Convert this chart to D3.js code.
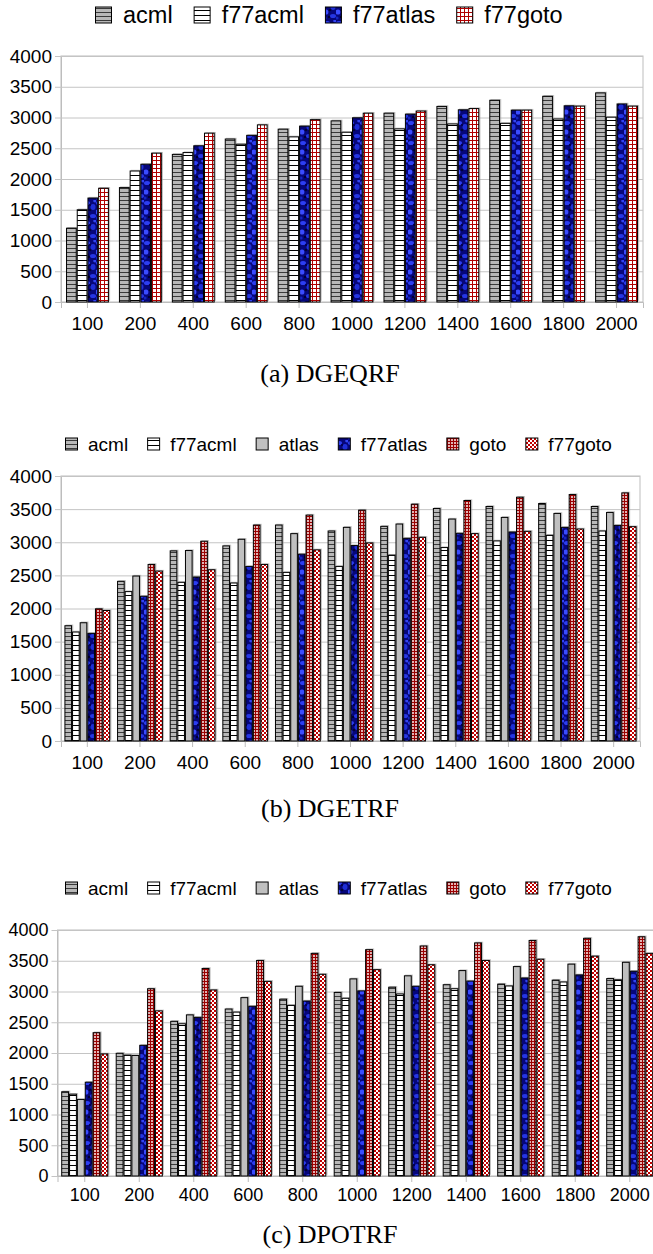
<!DOCTYPE html>
<html><head><meta charset="utf-8">
<script src="https://cdn.jsdelivr.net/npm/d3@7"></script>
<style>
html,body{margin:0;padding:0;background:#fff;}
svg{display:block;font-family:"Liberation Sans",Arial,sans-serif;}
</style></head>
<body>
<svg id="chart" width="653" height="1254"></svg>
<script>
// ---------- data ----------
const categories = ["100","200","400","600","800","1000","1200","1400","1600","1800","2000"];
const yTicks = [0,500,1000,1500,2000,2500,3000,3500,4000];

// (a) DGEQRF
const seriesA = ["acml","f77acml","f77atlas","f77goto"];
const dgeqrf_acml     = [1200,1860,2400,2650,2810,2945,3070,3180,3280,3345,3400];
const dgeqrf_f77acml  = [1500,2130,2430,2565,2685,2760,2815,2895,2905,2975,3005];
const dgeqrf_f77atlas = [1690,2240,2540,2710,2860,2995,3055,3125,3120,3190,3220];
const dgeqrf_f77goto  = [1850,2420,2745,2880,2965,3070,3105,3145,3120,3185,3185];

// (b) DGETRF
const seriesB = ["acml","f77acml","atlas","f77atlas","goto","f77goto"];
const dgetrf_acml     = [1740,2410,2870,2945,3260,3170,3240,3510,3540,3585,3540];
const dgetrf_f77acml  = [1645,2255,2395,2385,2545,2635,2805,2920,3020,3105,3170];
const dgetrf_atlas    = [1785,2490,2875,3045,3130,3225,3275,3350,3375,3435,3450];
const dgetrf_f77atlas = [1625,2185,2475,2635,2820,2950,3060,3135,3155,3225,3255];
const dgetrf_goto     = [1995,2665,3015,3260,3410,3485,3575,3630,3680,3720,3745];
const dgetrf_f77goto  = [1970,2565,2585,2665,2885,2990,3075,3130,3165,3200,3235];

// (c) DPOTRF
const seriesC = ["acml","f77acml","atlas","f77atlas","goto","f77goto"];
const dpotrf_acml     = [1370,1995,2515,2715,2875,2985,3070,3110,3120,3185,3210];
const dpotrf_f77acml  = [1330,1965,2475,2665,2775,2890,2960,3045,3090,3155,3190];
const dpotrf_atlas    = [1245,1960,2620,2900,3085,3205,3255,3340,3405,3445,3475];
const dpotrf_f77atlas = [1525,2125,2580,2760,2845,3010,3085,3170,3220,3270,3330];
const dpotrf_goto     = [2330,3045,3375,3505,3620,3680,3740,3790,3830,3865,3890];
const dpotrf_f77goto  = [1985,2685,3025,3165,3280,3355,3435,3505,3525,3575,3620];

const titles = ["(a) DGEQRF","(b) DGETRF","(c) DPOTRF"];

// ---------- patterns ----------
const svg = d3.select("#chart");
const defs = svg.append("defs");

function stripes(id, bg, line, period){
  const p = defs.append("pattern").attr("id",id).attr("patternUnits","userSpaceOnUse")
    .attr("width",8).attr("height",period);
  p.append("rect").attr("width",8).attr("height",period).attr("fill",bg);
  p.append("rect").attr("y",0).attr("width",8).attr("height",1).attr("fill",line);
}
stripes("p-acml","#b8b8b8","#3a3a3a",4);
stripes("p-f77acml","#ffffff","#000000",5);

{ // f77atlas: dark blue mottled texture
  const p = defs.append("pattern").attr("id","p-f77atlas").attr("patternUnits","userSpaceOnUse")
    .attr("width",12).attr("height",20);
  p.append("rect").attr("width",12).attr("height",20).attr("fill","#06067a");
  const blobs = [[3,3,3,2,"#2c3ef2"],[9,7,2.5,3,"#1e2ed6"],[2,12,2.4,2.6,"#3a4cff"],
                 [9,16,3,2,"#2536e4"],[6,10,1.4,1.2,"#02023a"],[11,1,1.8,1.4,"#3244f4"],
                 [1,18,1.6,1.6,"#1424c0"],[5,17,1.2,1.2,"#000030"],[6,5,1,1.2,"#00004a"]];
  blobs.forEach(b=>p.append("ellipse").attr("cx",b[0]).attr("cy",b[1]).attr("rx",b[2]).attr("ry",b[3]).attr("fill",b[4]));
}
{ // goto: dense dark-red grid
  const p = defs.append("pattern").attr("id","p-goto").attr("patternUnits","userSpaceOnUse")
    .attr("width",3).attr("height",3);
  p.append("rect").attr("width",3).attr("height",3).attr("fill","#e2b4b4");
  p.append("rect").attr("width",1).attr("height",3).attr("fill","#9a0000");
  p.append("rect").attr("width",3).attr("height",1).attr("fill","#9a0000");
}
{ // open red grid (panel a f77goto)
  const p = defs.append("pattern").attr("id","p-grid4").attr("patternUnits","userSpaceOnUse")
    .attr("width",4).attr("height",4);
  p.append("rect").attr("width",4).attr("height",4).attr("fill","#ffffff");
  p.append("rect").attr("width",1).attr("height",4).attr("fill","#b00000");
  p.append("rect").attr("width",4).attr("height",1).attr("fill","#b00000");
}
{ // f77goto: red checkerboard
  const p = defs.append("pattern").attr("id","p-f77goto").attr("patternUnits","userSpaceOnUse")
    .attr("width",4).attr("height",4);
  p.append("rect").attr("width",4).attr("height",4).attr("fill","#ffffff");
  p.append("rect").attr("width",2).attr("height",2).attr("fill","#c00000");
  p.append("rect").attr("x",2).attr("y",2).attr("width",2).attr("height",2).attr("fill","#c00000");
}
const fills = {
  acml:"url(#p-acml)", f77acml:"url(#p-f77acml)", atlas:"#c0c0c0",
  f77atlas:"url(#p-f77atlas)", goto:"url(#p-goto)", f77goto:"url(#p-f77goto)"
};

// ---------- panel drawing ----------
function drawPanel(cfg){
  const fillOf = s => (cfg.fillOverride && cfg.fillOverride[s]) || fills[s];
  const g = svg.append("g");
  const x = d3.scaleBand().domain(categories).range([cfg.left,cfg.right])
    .paddingInner(cfg.pad).paddingOuter(cfg.pad/2);
  const xs = d3.scaleBand().domain(cfg.series).range([0,x.bandwidth()]);
  const y = d3.scaleLinear().domain([0,4000]).range([cfg.bottom,cfg.top]);

  g.append("rect").attr("x",cfg.left).attr("y",cfg.top)
    .attr("width",cfg.right-cfg.left).attr("height",cfg.bottom-cfg.top)
    .attr("fill","none").attr("stroke","#bdbdbd").attr("stroke-width",1);

  const yAxis = d3.axisLeft(y).tickValues(yTicks).tickSize(-(cfg.right-cfg.left)).tickPadding(3)
    .tickFormat(d3.format("d"));
  const ya = g.append("g").attr("transform",`translate(${cfg.left},0)`).call(yAxis);
  ya.select(".domain").attr("stroke","#bdbdbd");
  ya.selectAll(".tick line").attr("stroke","#c4c4c4").attr("x1",-6);
  ya.selectAll(".tick text").attr("font-size",cfg.tickFont).attr("fill","#000")
    .attr("font-family","Liberation Sans, Arial, sans-serif").attr("x",-9);

  const xAxis = d3.axisBottom(x).tickSize(6).tickPadding(8);
  const xa = g.append("g").attr("transform",`translate(0,${cfg.bottom})`).call(xAxis);
  xa.select(".domain").attr("stroke","#bdbdbd");
  xa.selectAll(".tick line").attr("stroke","#bdbdbd");
  xa.selectAll(".tick text").attr("font-size",cfg.tickFont).attr("fill","#000")
    .attr("font-family","Liberation Sans, Arial, sans-serif").attr("dy",cfg.xLabelDy);

  const rows = [];
  categories.forEach((c,i)=>cfg.series.forEach((s,j)=>rows.push({c,s,v:cfg.values[j][i]})));
  const bars = g.append("g");
  bars.selectAll("rect.shadow").data(rows).join("rect").attr("class","shadow")
    .attr("x",d=>x(d.c)+xs(d.s)+1.2).attr("y",d=>y(d.v)-1.2)
    .attr("width",xs.bandwidth()).attr("height",d=>y(0)-y(d.v))
    .attr("fill","#9a9a9a").attr("opacity",0.6);
  bars.selectAll("rect.bar").data(rows).join("rect").attr("class","bar")
    .attr("x",d=>x(d.c)+xs(d.s)+0.5).attr("y",d=>y(d.v))
    .attr("width",xs.bandwidth()-1).attr("height",d=>y(0)-y(d.v))
    .attr("fill",d=>fillOf(d.s)).attr("stroke","#000").attr("stroke-width",1);

  const lg = g.append("g");
  let cx = cfg.legendX;
  cfg.series.forEach(s=>{
    lg.append("rect").attr("x",cx+0.5).attr("y",cfg.legendY-cfg.icon/2+0.5)
      .attr("width",cfg.icon-1).attr("height",cfg.icon-1)
      .attr("fill",fillOf(s)).attr("stroke","#000").attr("stroke-width",1);
    const t = lg.append("text").attr("x",cx+cfg.icon+cfg.gap).attr("y",cfg.legendY)
      .attr("dy","0.36em").attr("font-size",cfg.legendFont).attr("fill","#000").text(s);
    cx += cfg.icon + cfg.gap + t.node().getComputedTextLength() + cfg.spacing;
  });

  g.append("text").attr("x",cfg.titleX).attr("y",cfg.titleY).attr("dy","0.35em")
    .attr("text-anchor","middle").attr("font-family","Liberation Serif, Times New Roman, serif")
    .attr("font-size",cfg.titleFont).attr("fill","#000").text(cfg.title);
}

drawPanel({
  series:seriesA, values:[dgeqrf_acml,dgeqrf_f77acml,dgeqrf_f77atlas,dgeqrf_f77goto],
  fillOverride:{f77goto:"url(#p-grid4)"},
  top:56, bottom:302, left:61, right:643, pad:0.19,
  tickFont:19, xLabelDy:"0.75em",
  legendX:95, legendY:15, legendFont:23.5, icon:17, gap:11, spacing:21,
  title:titles[0], titleX:330, titleY:373, titleFont:26
});
drawPanel({
  series:seriesB, values:[dgetrf_acml,dgetrf_f77acml,dgetrf_atlas,dgetrf_f77atlas,dgetrf_goto,dgetrf_f77goto],
  top:476, bottom:741, left:61, right:640, pad:0.13,
  tickFont:19, xLabelDy:"0.75em",
  legendX:65, legendY:444, legendFont:19, icon:13, gap:10, spacing:19,
  title:titles[1], titleX:330, titleY:808, titleFont:26
});
drawPanel({
  series:seriesC, values:[dpotrf_acml,dpotrf_f77acml,dpotrf_atlas,dpotrf_f77atlas,dpotrf_goto,dpotrf_f77goto],
  top:930, bottom:1176, left:57.5, right:657, pad:0.136,
  tickFont:18, xLabelDy:"0.6em",
  legendX:65, legendY:888, legendFont:19, icon:13, gap:10, spacing:19,
  title:titles[2], titleX:330, titleY:1234, titleFont:26
});
</script>
</body></html>
